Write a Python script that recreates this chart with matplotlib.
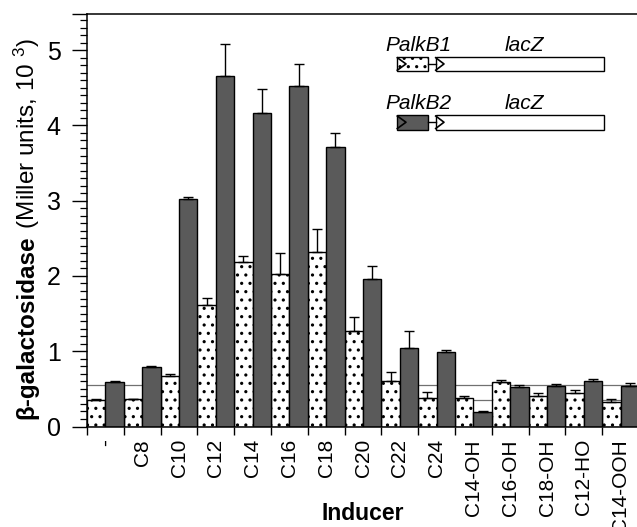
import matplotlib
matplotlib.use("Agg")
import matplotlib.pyplot as plt
import numpy as np
from matplotlib.ticker import MultipleLocator, FixedLocator
from matplotlib.patches import Rectangle

plt.rcParams['font.family'] = ['Liberation Sans', 'DejaVu Sans']
plt.rcParams['mathtext.fontset'] = 'custom'
plt.rcParams['mathtext.rm'] = 'Liberation Sans'
plt.rcParams['mathtext.it'] = 'Liberation Sans:italic'
plt.rcParams['mathtext.bf'] = 'Liberation Sans:bold'
plt.rcParams['hatch.linewidth'] = 1.1

# ---------------- data ----------------
categories = ['-', 'C8', 'C10', 'C12', 'C14', 'C16', 'C18', 'C20', 'C22', 'C24',
              'C14-OH', 'C16-OH', 'C18-OH', 'C12-HO', 'C14-OOH']
palkb1 = [0.35, 0.36, 0.67, 1.62, 2.18, 2.03, 2.32, 1.27, 0.61, 0.38,
          0.38, 0.59, 0.405, 0.45, 0.32]
palkb1_err = [0.01, 0.01, 0.03, 0.09, 0.09, 0.28, 0.30, 0.18, 0.11, 0.08,
              0.02, 0.03, 0.04, 0.04, 0.04]
palkb2 = [0.595, 0.79, 3.02, 4.65, 4.17, 4.53, 3.71, 1.96, 1.04, 0.985,
          0.19, 0.52, 0.54, 0.60, 0.54]
palkb2_err = [0.01, 0.02, 0.03, 0.43, 0.31, 0.29, 0.19, 0.17, 0.23, 0.03,
              0.01, 0.03, 0.02, 0.03, 0.04]
ref_lines = [0.555, 0.35]
yticks = [0, 1, 2, 3, 4, 5]

DARK = '#5a5a5a'
W, H = 637, 527
fig = plt.figure(figsize=(W / 100, H / 100), dpi=100)
ax = fig.add_axes([87 / W, 1 - 426.5 / H, (639 - 87) / W, (426.5 - 14) / H])

x = np.arange(len(categories))
bw = 0.5
for yv in ref_lines:
    ax.axhline(yv, color='#707070', lw=0.9, zorder=1)

ax.bar(x + 0.25, palkb1, width=bw, color='white', edgecolor='black',
       hatch='..', linewidth=1.0, zorder=2)
ax.bar(x + 0.75, palkb2, width=bw, color=DARK, edgecolor='black',
       linewidth=1.0, zorder=2)
ax.errorbar(x + 0.25, palkb1, yerr=[np.zeros(len(x)), palkb1_err], fmt='none',
            ecolor='black', elinewidth=1.0, capsize=3.5, capthick=1.0, zorder=3)
ax.errorbar(x + 0.75, palkb2, yerr=[np.zeros(len(x)), palkb2_err], fmt='none',
            ecolor='black', elinewidth=1.0, capsize=3.5, capthick=1.0, zorder=3)

ax.set_xlim(0, len(categories))
ymax = 5.48
ax.set_ylim(0, ymax)

ax.xaxis.set_major_locator(FixedLocator(np.arange(len(categories) + 1)))
ax.xaxis.set_minor_locator(FixedLocator(x + 0.5))
ax.set_xticklabels([], minor=False)
ax.set_xticklabels(categories, minor=True, rotation=90, fontsize=15)
ax.tick_params(axis='x', which='major', length=6, width=1.0, direction='out')
ax.tick_params(axis='x', which='minor', length=0, pad=9)

ax.yaxis.set_major_locator(FixedLocator(yticks + [ymax]))
ax.set_yticklabels([str(t) for t in yticks] + [''])
ax.yaxis.set_minor_locator(MultipleLocator(0.1))
ax.tick_params(axis='y', which='major', length=11, width=1.0, labelsize=18, pad=8)
ax.tick_params(axis='y', which='minor', length=5, width=0.9)

for s in ['left', 'bottom', 'top']:
    ax.spines[s].set_linewidth(1.1)
ax.spines['right'].set_visible(False)

ax.set_xlabel('Inducer', fontsize=16.5, fontweight='bold', va='center')
ax.xaxis.set_label_coords(0.5, -0.21)

# y label: bold part + regular part
t1 = fig.text(27 / W, 1 - 419 / H, 'β-galactosidase', rotation=90,
              ha='center', va='bottom', fontsize=17.5, fontweight='bold')
fig.canvas.draw()
bb = t1.get_window_extent()
fig.text(27 / W, bb.y1 / fig.bbox.height, ' (Miller units, 10 $^{3}$)', rotation=90,
         ha='center', va='bottom', fontsize=17.5)

# ---------------- inset construct diagram (pixel coords) ----------------
ov = fig.add_axes([0, 0, 1, 1], zorder=5)
ov.set_xlim(0, W)
ov.set_ylim(H, 0)
ov.axis('off')
ov.patch.set_alpha(0)

def construct(ytop, name, dark):
    ov.text(385, ytop - 6, name, fontsize=15, style='italic', ha='left', va='baseline')
    ov.text(505, ytop - 6, 'lacZ', fontsize=15, style='italic', ha='left', va='baseline')
    h = 14.5
    if dark:
        ov.add_patch(Rectangle((397.3, ytop), 31, h, facecolor=DARK, edgecolor='black', lw=1.0))
    else:
        ov.add_patch(Rectangle((397.3, ytop), 31, h, facecolor='white', edgecolor='black',
                               lw=1.0, hatch='..'))
    ov.plot([397.3, 406, 397.3], [ytop + 1, ytop + h / 2, ytop + h - 1], color='black', lw=1.2)
    ov.plot([428.3, 435.7], [ytop + h / 2, ytop + h / 2], color='black', lw=1.0)
    ov.add_patch(Rectangle((435.7, ytop), 168.3, h, facecolor='white', edgecolor='black', lw=1.0))
    ov.plot([435.7, 444, 435.7], [ytop + 1, ytop + h / 2, ytop + h - 1], color='black', lw=1.2)

construct(56.7, 'PalkB1', False)
construct(115, 'PalkB2', True)

fig.savefig('out.png', dpi=100)
